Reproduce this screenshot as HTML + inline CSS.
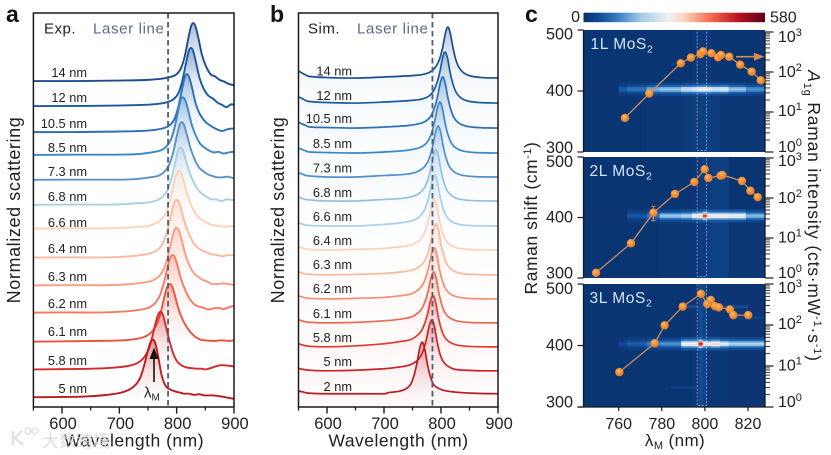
<!DOCTYPE html>
<html lang="en">
<head>
<meta charset="utf-8">
<title>Scattering spectra and Raman intensity of MoS2 resonators</title>
<style>
html,body{margin:0;padding:0;background:#fff;}
svg{display:block;font-family:"Liberation Sans","Noto Sans CJK SC",sans-serif;}
text{fill:#222;}
</style>
</head>
<body>
<svg id="fig" xmlns="http://www.w3.org/2000/svg" width="831" height="455" viewBox="0 0 831 455">
  <defs id="defs">
    <clipPath id="clipA"><rect x="33.4" y="13" width="200.6" height="394"/></clipPath>
    <clipPath id="clipB"><rect x="298.5" y="13" width="199.5" height="394"/></clipPath>
    <radialGradient id="dotGrad" cx="0.42" cy="0.38" r="0.65">
      <stop offset="0" stop-color="#ffc27a"/><stop offset="0.45" stop-color="#f4923a"/><stop offset="1" stop-color="#e57a22"/>
    </radialGradient>
    <filter id="soft" x="-5%" y="-5%" width="110%" height="110%"><feGaussianBlur stdDeviation="0.35"/></filter>
  </defs>
  <g id="layerA" clip-path="url(#clipA)"></g>
  <g id="layerB" clip-path="url(#clipB)"></g>
  <g id="layerAxes"></g>
  <g id="layerC"></g>

  <text x="6" y="22" font-size="23" font-weight="bold" style="fill:#111">a</text>
  <text x="270" y="22" font-size="23" font-weight="bold" style="fill:#111">b</text>
  <text x="525" y="22" font-size="23" font-weight="bold" style="fill:#111">c</text>

  <text x="44" y="33.5" font-size="15" letter-spacing="0.5">Exp.</text>
  <text x="93" y="33.5" font-size="15" letter-spacing="0.65" style="fill:#5b6a85">Laser line</text>
  <text x="308" y="33.5" font-size="15" letter-spacing="0.5">Sim.</text>
  <text x="357" y="33.5" font-size="15" letter-spacing="0.65" style="fill:#5b6a85">Laser line</text>

  <text x="20" y="210" transform="rotate(-90 20 210)" text-anchor="middle" font-size="18" letter-spacing="0.6">Normalized scattering</text>
  <text x="284" y="210" transform="rotate(-90 284 210)" text-anchor="middle" font-size="18" letter-spacing="0.6">Normalized scattering</text>
  <text x="134" y="446.5" text-anchor="middle" font-size="17.5" letter-spacing="0.5">Wavelength (nm)</text>
  <text x="398.5" y="446.5" text-anchor="middle" font-size="17.5" letter-spacing="0.5">Wavelength (nm)</text>

  <g>
    <line x1="154" y1="382" x2="154" y2="356" stroke="#111" stroke-width="1.6"/>
    <polygon points="154,347.5 149.5,359 158.5,359" fill="#111"/>
    <text x="144" y="397.5" font-size="15">λ<tspan dy="3" font-size="10">M</tspan></text>
  </g>

  <text x="537" y="218" transform="rotate(-90 537 218)" text-anchor="middle" font-size="17.5" letter-spacing="0.55">Raman shift (cm<tspan dy="-6" font-size="11">-1</tspan><tspan dy="6">)</tspan></text>
  <text x="808" y="216" transform="rotate(90 808 216)" text-anchor="middle" font-size="17.5" letter-spacing="0.8"><tspan font-style="italic">A</tspan><tspan dy="4" font-size="11">1g</tspan><tspan dy="-4"> Raman intensity (cts·mW</tspan><tspan dy="-6" font-size="11">-1</tspan><tspan dy="6">·s</tspan><tspan dy="-6" font-size="11">-1</tspan><tspan dy="6">)</tspan></text>
  <text x="675" y="446" text-anchor="middle" font-size="17" letter-spacing="0.4">λ<tspan dy="3" font-size="11">M</tspan><tspan dy="-3"> (nm)</tspan></text>

  <g opacity="0.85">
    <path d="M13 431 V445 M22 431 L15 438 L23 445" fill="none" stroke="#dcdcdc" stroke-width="2.5"/>
    <circle cx="28" cy="431" r="3" fill="none" stroke="#dcdcdc" stroke-width="1.5"/>
    <circle cx="35" cy="431" r="3" fill="none" stroke="#dcdcdc" stroke-width="1.5"/>
    <text x="42" y="447" font-size="17" style="fill:#d8d8d8">大数跨境</text>
  </g>
</svg>

<script>
/* ---------- Panel a: experimental spectra ---------- */
const expLabels = ["14 nm","12 nm","10.5 nm","8.5 nm","7.3 nm","6.8 nm","6.6 nm","6.4 nm","6.3 nm","6.2 nm","6.1 nm","5.8 nm","5 nm"];
const expPeakNm = [829,825,818,811,809,807,804,800,800,793,788,772,759];
const expStack = [5.62,5.19,4.74,4.34,3.91,3.48,3.07,2.57,2.09,1.62,1.12,0.64,0.16];
const expColors = ["#1b4d90","#1a5aa0","#2a70b6","#3a86c8","#5b93c3","#a8cfe7","#fcd2bb","#fbb99e","#f99c82","#f57a60","#e85440","#d32b27","#bb1b20"];
const expOffsetNm = [-350,-200,-120,-80,-55,-40,-30,-22,-15,-9,-4,0,4,9,15,22,30,38,46,54,62,71,80,90,105,120,141];
const exp14 = [0,0,.01,.02,.04,.07,.11,.21,.42,.72,.94,1,.94,.74,.46,.26,.12,.08,.02,-.01,-.05,-.07,-.06,-.07,-.06,-.06,-.06];
const exp12 = [0,0,.01,.02,.04,.07,.12,.22,.44,.72,.94,1,.94,.74,.48,.3,.18,.13,.06,.02,-.02,.03,-.02,-.02,0,0,0];
const exp10 = [0,0,.01,.02,.04,.07,.12,.22,.44,.72,.94,1,.94,.76,.5,.32,.2,.13,.08,.04,.02,.05,.06,.02,.03,.03,.03];
const exp85 = [0,.01,.01,.02,.05,.08,.14,.25,.46,.74,.95,1,.95,.78,.54,.35,.2,.13,.08,.05,.06,.03,.05,.06,.04,.05,.05];
const exp73 = [0,.01,.01,.02,.05,.08,.15,.27,.48,.75,.95,1,.95,.78,.56,.37,.22,.15,.1,.07,.05,.05,.06,.04,.05,.05,.05];
const exp68 = [0,.01,.01,.03,.05,.09,.16,.28,.5,.76,.95,1,.95,.78,.58,.41,.27,.19,.14,.1,.1,.07,.1,.09,.1,.11,.1];
const exp66 = [0,.01,.01,.03,.05,.1,.17,.3,.52,.78,.96,1,.96,.8,.58,.4,.25,.17,.12,.08,.06,.05,.04,.05,.03,.04,.02];
const exp64 = [0,.01,.01,.03,.06,.1,.17,.3,.52,.78,.96,1,.96,.8,.58,.4,.25,.17,.12,.09,.06,.05,.03,.05,.04,.03,.02];
const exp63 = [0,.01,.01,.03,.06,.1,.17,.3,.52,.78,.96,1,.95,.78,.55,.36,.22,.15,.1,.07,.03,.03,.04,.03,.01,.04,.02];
const exp62 = [0,.01,.01,.03,.06,.1,.18,.31,.53,.79,.96,1,.96,.8,.58,.4,.24,.15,.11,.09,.06,.08,.09,.07,.12,.1,.08];
const exp61 = [0,.01,.02,.03,.06,.11,.19,.32,.54,.8,.96,1,.96,.8,.58,.4,.25,.15,.08,.04,.03,.02,.02,.03,.02,.04,.02];
const exp58 = [0,.01,.02,.04,.07,.12,.2,.33,.55,.8,.96,1,.95,.76,.52,.28,.13,.07,.04,.03,.02,.02,.01,.04,.08,.07,.03];
const exp5 = [0,.01,.02,.05,.09,.15,.23,.36,.58,.82,.97,1,.93,.7,.38,.2,.14,.11,.09,.07,.07,.05,.06,.04,.04,.02,-.02];
const expCurves = [exp14,exp12,exp10,exp85,exp73,exp68,exp66,exp64,exp63,exp62,exp61,exp58,exp5];

/* ---------- Panel b: simulated spectra ---------- */
const simLabels = ["14 nm","12 nm","10.5 nm","8.5 nm","7.3 nm","6.8 nm","6.6 nm","6.4 nm","6.3 nm","6.2 nm","6.1 nm","5.8 nm","5 nm","2 nm"];
const simPeakNm = [812,807,803,798,795,791,789,788,791,788,787,786,784,767];
const simStack = [6.45,5.96,5.47,4.98,4.51,4.04,3.55,3.08,2.59,2.12,1.65,1.18,0.71,0.27];
const simColors = ["#1b4d90","#1a5aa0","#2a70b6","#3a86c8","#4f90cc","#8fc0e2","#a8cfe7","#fcd2bb","#fbb99e","#f58f74","#ec6a54","#e1392f","#cf2226","#bb1b20"];
const simWingNm = [550,556,563,570,600,650,700];
const simOffsetNm = [-60,-40,-28,-20,-14,-9,-5,-2,0,2,5,9,14,20,28,40,60,90,135];
const sim14 = [.14,.1,.06,.03,.01,0,.02,.05,.08,.14,.24,.39,.6,.84,.97,1,.97,.84,.6,.36,.2,.1,.04,.01,0,-.01];
const sim12 = [.12,.09,.05,.03,.01,0,.02,.05,.08,.14,.24,.4,.61,.85,.97,1,.97,.85,.6,.37,.2,.1,.04,.01,0,-.01];
const sim10 = [.12,.08,.05,.02,.01,0,.02,.05,.09,.15,.25,.41,.62,.85,.97,1,.97,.85,.6,.37,.2,.1,.04,.01,0,0];
const sim85 = [.1,.07,.04,.02,.01,0,.02,.05,.09,.15,.25,.41,.62,.85,.97,1,.97,.85,.6,.37,.2,.1,.04,.01,0,0];
const sim73 = [.08,.06,.03,.02,0,0,.03,.05,.09,.16,.26,.42,.63,.86,.97,1,.97,.85,.6,.37,.2,.1,.04,.01,0,0];
const sim68 = [.08,.05,.03,.02,0,0,.03,.05,.09,.16,.26,.42,.63,.86,.97,1,.97,.85,.6,.37,.2,.1,.04,.01,0,0];
const sim66 = [.06,.04,.02,.01,0,0,.03,.06,.1,.17,.27,.43,.64,.86,.97,1,.97,.85,.6,.37,.2,.1,.04,.01,0,0];
const sim64 = [.06,.04,.02,.01,0,.01,.03,.06,.1,.17,.27,.43,.64,.86,.97,1,.97,.85,.6,.37,.2,.1,.04,.01,0,0];
const sim63 = [.06,.04,.02,.01,0,.01,.03,.06,.1,.17,.27,.43,.64,.86,.97,1,.97,.85,.6,.37,.2,.1,.04,.01,0,0];
const sim62 = [.06,.04,.02,.01,0,.01,.03,.06,.1,.18,.28,.44,.65,.87,.97,1,.97,.85,.6,.37,.2,.1,.04,.01,0,0];
const sim61 = [.06,.04,.02,.01,0,.01,.04,.07,.11,.19,.29,.45,.65,.87,.97,1,.97,.85,.6,.37,.2,.1,.04,.01,0,0];
const sim58 = [.06,.04,.02,.01,0,.02,.06,.1,.14,.22,.32,.48,.67,.88,.98,1,.97,.85,.6,.37,.2,.1,.04,.01,0,0];
const sim5 = [.05,.03,.02,.01,0,.01,.04,.07,.11,.18,.28,.44,.65,.87,.97,1,.97,.84,.58,.34,.18,.09,.03,.01,0,0];
const sim2 = [.04,.03,.01,0,-.01,-.01,-.01,.01,.04,.09,.18,.36,.6,.85,.97,1,.97,.84,.58,.34,.17,.1,.05,.02,0,-.01];
const simCurves = [sim14,sim12,sim10,sim85,sim73,sim68,sim66,sim64,sim63,sim62,sim61,sim58,sim5,sim2];

const spectraTicks = [600,700,800,900];
const spectraMinorTicks = [550,650,750,850];
const laserNm = 785;

/* ---------- Panel c: Raman maps and A1g intensity ---------- */
const layerNames = ["1L","2L","3L"];
const wave1L = [762.9,774.2,788.8,793.5,798,799.1,803,806.1,807.5,811.3,816.4,821.7,825.9];
const inten1L = [7.1,29,165,229,282,329,295,233,266,241,152,102,62];
const wave2L = [749.5,765.7,776.1,786.1,795.1,799.9,801.6,807.3,808.1,817.2,821.1,824.5];
const inten2L = [1.35,7.4,43,126,251,525,316,363,376,266,152,105];
const wave3L = [760.3,776.7,781.3,789.7,798.2,801.1,802.7,804.7,806.5,811.6,813.2,820.1];
const inten3L = [7.1,36,98,282,575,324,407,288,269,240,174,174];
const errWave2L = 776.1;
const errLow2L = 27;
const errHigh2L = 62;

const heatEdgesNm = [744,760,764,773,779,789,794,797,799,801,803,807,811,819,828];
const band1L = [0,60,90,150,170,215,240,265,280,255,230,245,170,120];
const band2L = [0,0,50,90,170,190,270,300,440,300,290,290,280,160];
const band3L = [0,30,60,100,120,275,280,470,290,260,310,240,190,190];
const low1L = [0,0,0,6,6,8,10,16,16,16,10,6,3,3];
const high1L = [0,0,0,0,0,0,4,7,7,7,2,0,0,0];
const low2L = [0,0,0,0,3,4,6,14,14,18,22,22,3,3];
const high2L = [0,0,0,0,0,0,2,10,12,14,16,16,0,0];
const low3L = [0,0,0,0,0,0,4,34,26,6,6,4,2,2];
const high3L = [0,0,0,0,0,0,2,34,24,6,4,2,2,2];
const bandRowEdges = [392,396,399,401.5,404.5,407,410,414];
const bandRowWeights = [.15,.4,.85,1,.85,.4,.15];
const streakRaman3L = [463,445,332];
const streakFromNm3L = [790,812,784];
const streakToNm3L = [820,828,796];
const streakValue3L = [30,22,16];

const ramanTicks = [300,400,500];
const waveTicks = [760,780,800,820];
const logExponents = [0,1,2,3];
const logMinorFactors = [2,3,4,5,6,7,8,9];
const laserBoxNm = [796.4,800.8];
const colorStopsValue = [0,60,100,180,260,300,380,460,530,580];
const colorStopsHex = ["#0a3573","#1a5ba8","#2f7fc6","#a8d0ee","#f2f6fa","#fbe3d6","#f98e6e","#d9261f","#9a0d18","#5a0012"];

/* ---------- Geometry ---------- */
const PANEL_TOP = 13, PANEL_BOTTOM = 407;
const xA = nm => 33.4 + (nm - 550) * 0.573;
const yA = v => 407 - 58 * v;
const xB = nm => 298.5 + (nm - 550) * 0.57;
const yB = v => 407 - 51 * v;
const xC = nm => 618.7 + (nm - 760) * 2.155;
const C_LEFT = 583.5, C_RIGHT = 765;
const panelsC = [
  {top:30, bottom:152, logTop:32, raman:[1,5,9.5], log:[0,4,5,10], lx:590.5, ly:49},
  {top:157, bottom:278, logTop:158, raman:[0.5,5,10], log:[0,4.5,5,8], lx:589.5, ly:176},
  {top:284, bottom:407, logTop:284, raman:[0.5,5,10], log:[0,4.5,4,9], lx:589.5, ly:303}
];
const yRaman = (p, r) => p.bottom - (r - 300) / 200 * (p.bottom - p.top);
const yLog = (p, v) => p.bottom - Math.log10(v) * (p.bottom - p.logTop) / 3;

const NS = "http://www.w3.org/2000/svg";
function mk(parent, tag, attrs, txt) {
  const el = document.createElementNS(NS, tag);
  for (const k in attrs) el.setAttribute(k, attrs[k]);
  if (txt !== undefined) el.textContent = txt;
  parent.appendChild(el);
  return el;
}
function smooth(pts) {
  let d = "M" + pts[0][0].toFixed(2) + " " + pts[0][1].toFixed(2);
  for (let i = 0; i < pts.length - 1; i++) {
    const p0 = pts[Math.max(i - 1, 0)], p1 = pts[i], p2 = pts[i + 1], p3 = pts[Math.min(i + 2, pts.length - 1)];
    const c1x = p1[0] + (p2[0] - p0[0]) / 6, c1y = p1[1] + (p2[1] - p0[1]) / 6;
    const c2x = p2[0] - (p3[0] - p1[0]) / 6, c2y = p2[1] - (p3[1] - p1[1]) / 6;
    d += "C" + c1x.toFixed(2) + " " + c1y.toFixed(2) + " " + c2x.toFixed(2) + " " + c2y.toFixed(2) + " " + p2[0].toFixed(2) + " " + p2[1].toFixed(2);
  }
  return d;
}
function hexRgb(h) { return [1,3,5].map(i => parseInt(h.substr(i,2),16)); }
function heatColor(v) {
  if (v <= colorStopsValue[0]) return colorStopsHex[0];
  for (let i = 1; i < colorStopsValue.length; i++) {
    if (v <= colorStopsValue[i]) {
      const t = (v - colorStopsValue[i-1]) / (colorStopsValue[i] - colorStopsValue[i-1]);
      const a = hexRgb(colorStopsHex[i-1]), b = hexRgb(colorStopsHex[i]);
      return "rgb(" + a.map((c,k) => Math.round(c + (b[k]-c)*t)).join(",") + ")";
    }
  }
  return colorStopsHex[colorStopsHex.length-1];
}
const defs = document.getElementById("defs");
function fillGradient(id, color, y1, y2, stops) {
  const g = mk(defs, "linearGradient", {id:id, gradientUnits:"userSpaceOnUse", x1:0, x2:0, y1:y1, y2:y2});
  stops.forEach(s => mk(g, "stop", {offset:s[0], "stop-color":color, "stop-opacity":s[1]}));
}

/* ---------- Draw panel a ---------- */
const layerA = document.getElementById("layerA");
expCurves.forEach((vals, i) => {
  const base = expStack[i];
  const pts = expOffsetNm.map((o, j) => [xA(expPeakNm[i] + o), yA(base + vals[j])]);
  const d = smooth(pts);
  fillGradient("ga" + i, expColors[i], yA(base + 1), yA(base), [[0,.38],[.55,.12],[1,0]]);
  const area = mk(layerA, "path", {d: d + "L" + pts[pts.length-1][0].toFixed(1) + " " + yA(base).toFixed(1) + "L" + pts[0][0].toFixed(1) + " " + yA(base).toFixed(1) + "Z", fill:"url(#ga" + i + ")", stroke:"none"});
  
  
  const line = mk(layerA, "path", {d:d, fill:"none", stroke:expColors[i], "stroke-width":1.9, "stroke-linejoin":"round"});
  
  
});

/* ---------- Draw panel b ---------- */
const layerB = document.getElementById("layerB");
simCurves.forEach((vals, i) => {
  const base = simStack[i];
  const waves = simWingNm.concat(simOffsetNm.map(o => simPeakNm[i] + o));
  const pts = waves.map((nm, j) => [xB(nm), yB(base + vals[j])]);
  const d = smooth(pts);
  const low = yB(base) + 24;
  fillGradient("gb" + i, simColors[i], yB(base + 1), low, [[0,.3],[.45,.1],[.7,.045],[1,0]]);
  const area = mk(layerB, "path", {d: d + "L" + pts[pts.length-1][0].toFixed(1) + " " + low.toFixed(1) + "L" + pts[0][0].toFixed(1) + " " + low.toFixed(1) + "Z", fill:"url(#gb" + i + ")", stroke:"none"});
  
  
  const line = mk(layerB, "path", {d:d, fill:"none", stroke:simColors[i], "stroke-width":1.7, "stroke-linejoin":"round"});
  
  
});

/* ---------- Spectra axes, labels, laser lines ---------- */
const axesLayer = document.getElementById("layerAxes");
function spectraAxes(xf, left, right, tag) {
  const laser = mk(axesLayer, "line", {x1:xf(laserNm), x2:xf(laserNm), y1:PANEL_TOP, y2:PANEL_BOTTOM, stroke:"#4e5d75", "stroke-width":1.8, "stroke-dasharray":"5.5 3.5"});
  
  
  const frame = mk(axesLayer, "rect", {x:left, y:PANEL_TOP, width:right-left, height:PANEL_BOTTOM-PANEL_TOP, fill:"none", stroke:"#1a1a1a", "stroke-width":1.5});
  
  
  spectraMinorTicks.forEach(t => {
    const m = mk(axesLayer, "line", {x1:xf(t), x2:xf(t), y1:PANEL_BOTTOM, y2:PANEL_BOTTOM+3.5, stroke:"#1a1a1a", "stroke-width":1.3});
    
    
  });
  spectraTicks.forEach(t => {
    const m = mk(axesLayer, "line", {x1:xf(t), x2:xf(t), y1:PANEL_BOTTOM, y2:PANEL_BOTTOM+6.5, stroke:"#1a1a1a", "stroke-width":1.4});
    
    
    const lab = mk(axesLayer, "text", {x:xf(t)+1, y:429, "text-anchor":"middle", "font-size":16.5}, String(t));
    
    
  });
}
spectraAxes(xA, 33.4, 234, "a");
spectraAxes(xB, 298.5, 498, "b");

expLabels.forEach((t, i) => {
  const baselineY = [77,102,128,152,176,201,227,253,281,308,336,365,393][i];
  const lab = mk(axesLayer, "text", {x:87, y:baselineY, "text-anchor":"end", "font-size":12.8}, t);
  
  
});
simLabels.forEach((t, i) => {
  const baselineY = [75.7,100,123,148,172.7,197,221,245,269,293,318,342,366,391][i];
  const lab = mk(axesLayer, "text", {x:352, y:baselineY, "text-anchor":"end", "font-size":12.8}, t);
  
  
});

/* ---------- Draw panel c ---------- */
const layerC = document.getElementById("layerC");
const barGrad = mk(defs, "linearGradient", {id:"barGrad", x1:0, x2:1, y1:0, y2:0});
[["0","#08306b"],["0.1","#12509a"],["0.2","#3f86c6"],["0.32","#a5cce8"],["0.47","#f0f2f4"],["0.55","#fbd6c2"],["0.7","#f46d50"],["0.85","#b81420"],["1","#5f0018"]].forEach(s => {
  mk(barGrad, "stop", {offset:s[0], "stop-color":s[1]});
});
const bar = mk(layerC, "rect", {x:C_LEFT, y:12.7, width:C_RIGHT-C_LEFT, height:9.5, fill:"url(#barGrad)"});


const barMin = mk(layerC, "text", {x:580, y:22, "text-anchor":"end", "font-size":16}, "0");


const barMax = mk(layerC, "text", {x:770, y:22.5, "font-size":16}, "580");



const bandsC = [band1L, band2L, band3L];
const lowsC = [low1L, low2L, low3L];
const highsC = [high1L, high2L, high3L];
const wavesC = [wave1L, wave2L, wave3L];
const intensC = [inten1L, inten2L, inten3L];

panelsC.forEach((p, pi) => {
  const bg = mk(layerC, "rect", {x:C_LEFT, y:p.top, width:C_RIGHT-C_LEFT, height:p.bottom-p.top, fill:heatColor(0)});
  
  
  const cells = mk(layerC, "g", {filter:"url(#soft)"});
  
  
  const clipId = "clipC" + pi;
  const cp = mk(defs, "clipPath", {id:clipId});
  mk(cp, "rect", {x:C_LEFT, y:p.top, width:C_RIGHT-C_LEFT, height:p.bottom-p.top});
  const clipped = mk(layerC, "g", {"clip-path":"url(#" + clipId + ")"});
  
  
  clipped.appendChild(cells);
  for (let c = 0; c < heatEdgesNm.length - 1; c++) {
    const x0 = Math.max(xC(heatEdgesNm[c]), C_LEFT), x1 = Math.min(xC(heatEdgesNm[c+1]), C_RIGHT);
    const cell = (r0, r1, v) => {
      const el = mk(cells, "rect", {x:x0, width:x1-x0+0.3, y:yRaman(p,r1), height:yRaman(p,r0)-yRaman(p,r1)+0.2, fill:heatColor(v)});
      
      
    };
    if (lowsC[pi][c] > 0) cell(300, bandRowEdges[0], lowsC[pi][c]);
    if (highsC[pi][c] > 0) cell(bandRowEdges[bandRowEdges.length-1], 500, highsC[pi][c]);
    bandRowWeights.forEach((w, r) => {
      const back = Math.max(lowsC[pi][c], highsC[pi][c]);
      cell(bandRowEdges[r], bandRowEdges[r+1], Math.max(back, bandsC[pi][c] * w));
    });
  }
  if (pi === 2) {
    streakRaman3L.forEach((r, s) => {
      const el = mk(cells, "rect", {x:xC(streakFromNm3L[s]), width:xC(streakToNm3L[s])-xC(streakFromNm3L[s]), y:yRaman(p,r)-1.5, height:3, fill:heatColor(streakValue3L[s])});
      
      
    });
  }
  /* laser box */
  const boxX0 = xC(laserBoxNm[0]), boxX1 = xC(laserBoxNm[1]);
  const lbox = mk(clipped, "rect", {x:boxX0, y:p.top-3, width:boxX1-boxX0, height:p.bottom-p.top+1.5, fill:"none", stroke:"#bcd6f0", "stroke-width":0.7, "stroke-dasharray":"2 1.6", opacity:0.8});
  
  

  /* left axis */
  const spine = mk(layerC, "path", {d:"M" + C_LEFT + " " + p.top + "V" + p.bottom, stroke:"#1a1a1a", "stroke-width":1.3, fill:"none"});
  
  
  ramanTicks.forEach((r, k) => {
    const ty = yRaman(p, r);
    const t = mk(layerC, "line", {x1:C_LEFT-6, x2:C_LEFT, y1:ty, y2:ty, stroke:"#1a1a1a", "stroke-width":1.2});
    
    
    const l = mk(layerC, "text", {x:573, y:ty+p.raman[k], "text-anchor":"end", "font-size":16.2}, String(r));
    
    
  });

  /* right log axis */
  const rsp = mk(layerC, "path", {d:"M" + C_RIGHT + " " + p.logTop + "V" + p.bottom, stroke:"#1a1a1a", "stroke-width":1.3, fill:"none"});
  
  
  logExponents.forEach((e, k) => {
    const v = Math.pow(10, e), ty = yLog(p, v);
    const t = mk(layerC, "line", {x1:C_RIGHT, x2:C_RIGHT+8.5, y1:ty, y2:ty, stroke:"#1a1a1a", "stroke-width":1.2});
    
    
    const lab = mk(layerC, "text", {x:778, y:ty+p.log[k], "font-size":16}, "10");
    
    
    const sup = mk(lab, "tspan", {dy:-6, "font-size":11}, String(e));
    
    
    if (e < 3) logMinorFactors.forEach(f => {
      const my = yLog(p, f * v);
      const mt = mk(layerC, "line", {x1:C_RIGHT, x2:C_RIGHT+5, y1:my, y2:my, stroke:"#1a1a1a", "stroke-width":0.9});
      
      
    });
  });

  /* layer label */
  const lbl = mk(layerC, "text", {x:p.lx, y:p.ly, "font-size":15.5, "letter-spacing":0.6, style:"fill:#d3e4f6"}, layerNames[pi] + " MoS");
  
  
  const sub = mk(lbl, "tspan", {dy:3.5, "font-size":10.5}, "2");
  
  

  /* intensity series */
  const pts = wavesC[pi].map((nm, j) => [xC(nm), yLog(p, intensC[pi][j])]);
  const poly = mk(layerC, "polyline", {points:pts.map(q => q[0].toFixed(1) + "," + q[1].toFixed(1)).join(" "), fill:"none", stroke:"#c98d60", "stroke-width":1.3});
  
  
  if (pi === 1) {
    const eb = mk(layerC, "line", {x1:xC(errWave2L), x2:xC(errWave2L), y1:yLog(p, errHigh2L), y2:yLog(p, errLow2L), stroke:"#d8853a", "stroke-width":1.1});
    
    
    [errHigh2L, errLow2L].forEach(v => {
      const cap = mk(layerC, "line", {x1:xC(errWave2L)-2, x2:xC(errWave2L)+2, y1:yLog(p, v), y2:yLog(p, v), stroke:"#d8853a", "stroke-width":1});
      
      
    });
  }
  pts.forEach(q => {
    const dot = mk(layerC, "circle", {cx:q[0], cy:q[1], r:4.2, fill:"url(#dotGrad)"});
    
    
  });
});

/* arrow pointing to the right axis */
const arrowLine = mk(layerC, "line", {x1:736, x2:757, y1:56.7, y2:56.7, stroke:"#d98a52", "stroke-width":1.6});


const arrowHead = mk(layerC, "polygon", {points:"764.5,56.7 754,52.7 754,60.7", fill:"#d98a52"});



/* bottom axis of panel c */
const baseC = mk(layerC, "line", {x1:C_LEFT-6, x2:C_RIGHT+1, y1:407, y2:407, stroke:"#1a1a1a", "stroke-width":1.3});


waveTicks.forEach(t => {
  const k = mk(layerC, "line", {x1:xC(t), x2:xC(t), y1:407, y2:411, stroke:"#1a1a1a", "stroke-width":1.2});
  
  
  const l = mk(layerC, "text", {x:xC(t), y:429, "text-anchor":"middle", "font-size":16}, String(t));
  
  
});
</script>
</body>
</html>
